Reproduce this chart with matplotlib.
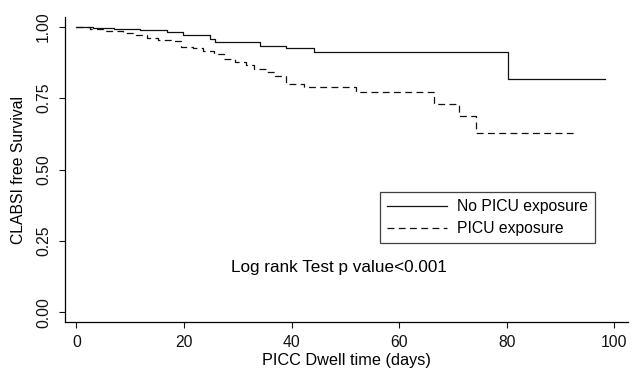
import matplotlib
matplotlib.use("Agg")
import matplotlib.pyplot as plt

plt.rcParams['font.family'] = ['Liberation Sans', 'DejaVu Sans']

# Kaplan-Meier steps
no_picu_days = [0, 3.0, 6.9, 11.9, 16.9, 19.9, 24.9, 25.8, 34.2, 39.0, 44.2, 80.3, 98.3]
no_picu_surv = [1.0, 0.997, 0.994, 0.99, 0.983, 0.972, 0.958, 0.946, 0.934, 0.925, 0.912, 0.817, 0.817]

picu_days = [0, 2.6, 5.4, 8.6, 11.0, 13.2, 15.2, 17.5, 19.5, 21.6, 23.6, 25.5, 27.5, 29.4,
             31.6, 33.1, 35.3, 37.0, 39.0, 42.4, 52.0, 66.4, 71.2, 74.3, 92.7]
picu_surv = [1.0, 0.994, 0.986, 0.978, 0.97, 0.96, 0.954, 0.949, 0.93, 0.925, 0.916, 0.904, 0.888, 0.876,
             0.866, 0.853, 0.841, 0.829, 0.799, 0.788, 0.77, 0.73, 0.689, 0.627, 0.627]

x_ticks = [0, 20, 40, 60, 80, 100]
y_ticks = [0.0, 0.25, 0.5, 0.75, 1.0]
y_tick_labels = ["0.00", "0.25", "0.50", "0.75", "1.00"]

fs = 11.3

fig = plt.figure(figsize=(6.32, 3.75), dpi=100)
ax = fig.add_axes([0.103, 0.141, 0.891, 0.814])

ax.plot(no_picu_days, no_picu_surv, drawstyle='steps-post', color='#111111', lw=0.9,
        label='No PICU exposure')
ax.plot(picu_days, picu_surv, drawstyle='steps-post', color='#111111', lw=0.9,
        linestyle=(0, (5.5, 3.5)), label='PICU exposure')

ax.set_xlim(-2.1, 102.6)
ax.set_ylim(-0.035, 1.035)
ax.set_xticks(x_ticks)
ax.set_yticks(y_ticks)
ax.set_yticklabels(y_tick_labels, rotation=90, va='center')
ax.tick_params(direction='out', length=4, width=0.8, labelsize=fs, colors='#111111')
ax.tick_params(axis='y', pad=6)
ax.tick_params(axis='x', pad=5.5)

for s in ['top', 'right']:
    ax.spines[s].set_visible(False)
for s in ['left', 'bottom']:
    ax.spines[s].set_linewidth(0.9)

ax.set_xlabel("PICC Dwell time (days)", fontsize=11.7, labelpad=2)
ax.set_ylabel("CLABSI free Survival", fontsize=fs, labelpad=7)

ax.text(48.9, 0.158, "Log rank Test p value<0.001", ha='center', va='center', fontsize=12.3)

leg = ax.legend(loc='upper left', bbox_to_anchor=(380 / 632, 1 - 192 / 375),
                bbox_transform=fig.transFigure, borderaxespad=0, fontsize=fs, frameon=True,
                fancybox=False, edgecolor='#111111', handlelength=3.8, borderpad=0.45,
                labelspacing=0.45, handletextpad=0.64)
leg.get_frame().set_linewidth(0.9)

fig.savefig("out.png", dpi=100)
